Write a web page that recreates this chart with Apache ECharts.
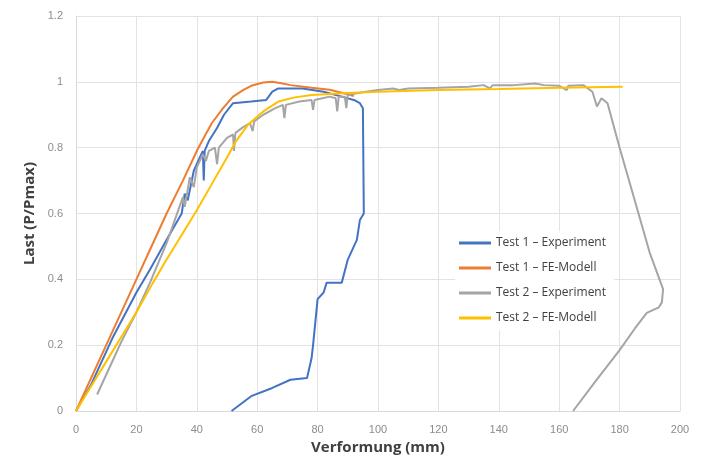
<!DOCTYPE html>
<html>
<head>
<meta charset="utf-8">
<script src="https://cdn.jsdelivr.net/npm/echarts@6/dist/echarts.min.js"></script>
<style>
  html, body { margin: 0; padding: 0; background: #fff; }
  #main { width: 711px; height: 461px; }
</style>
</head>
<body>
<div id="main"></div>
<script>
// Last-Verformungs-Kurven, Werte
const seriesNames = [
  'Test 1 \u2013 Experiment',
  'Test 1 \u2013 FE-Modell',
  'Test 2 \u2013 Experiment',
  'Test 2 \u2013 FE-Modell'
];

const test1Exp = [
  [0, 0], [5, 0.08], [12, 0.22], [20, 0.36], [24.5, 0.43], [30, 0.52],
  [35, 0.6], [36, 0.66], [37, 0.64], [39, 0.73], [41, 0.77], [42, 0.79],
  [42.3, 0.7], [42.6, 0.79], [44, 0.82], [46.7, 0.86], [49, 0.9], [52, 0.935],
  [58, 0.94], [63, 0.945], [65, 0.97], [67, 0.98], [75, 0.98], [82, 0.97],
  [88, 0.955], [92, 0.945], [94, 0.935], [95, 0.92], [95.3, 0.6], [94, 0.58],
  [93, 0.52], [90, 0.46], [88, 0.39], [83, 0.39], [82, 0.36], [80, 0.34],
  [78.5, 0.2], [78, 0.16], [76.5, 0.1], [71, 0.095], [65, 0.07], [58, 0.045],
  [51.5, 0]
];

const test1FE = [
  [0, 0], [10, 0.2], [20, 0.4], [24.5, 0.49], [30, 0.6], [35.4, 0.7],
  [40, 0.79], [42, 0.825], [45, 0.875], [48.7, 0.92], [52, 0.955], [55.3, 0.975],
  [58, 0.988], [62, 0.998], [65, 1.0], [68, 0.996], [71, 0.99], [78, 0.982],
  [84, 0.976], [88, 0.967], [92, 0.957]
];

const test2Exp = [
  [7, 0.05], [10, 0.11], [15, 0.21], [20, 0.3], [24.5, 0.39], [30, 0.51],
  [35.4, 0.65], [36, 0.62], [37.7, 0.71], [39, 0.68], [40, 0.74], [42, 0.78],
  [43, 0.76], [44, 0.79], [46, 0.8], [46.7, 0.75], [47.3, 0.8], [50, 0.83],
  [52, 0.84], [52.3, 0.79], [52.8, 0.845], [55, 0.86], [57.6, 0.875],
  [58.5, 0.85], [59, 0.88], [62, 0.9], [66, 0.92], [68.5, 0.93], [69, 0.89],
  [69.5, 0.93], [74, 0.94], [78, 0.945], [78.5, 0.915], [79, 0.945],
  [84, 0.955], [86, 0.95], [86.5, 0.91], [87, 0.955], [89, 0.955], [89.5, 0.92],
  [90, 0.96], [93, 0.965], [96, 0.97], [100, 0.975], [105, 0.98], [107, 0.975],
  [110, 0.98], [120, 0.982], [130, 0.985], [135, 0.99], [137, 0.98], [138, 0.99],
  [145, 0.99], [152, 0.995], [155, 0.99], [160, 0.988], [162.5, 0.975],
  [163, 0.988], [168, 0.99], [171, 0.97], [172.5, 0.925], [174, 0.95],
  [176, 0.935], [180, 0.8], [185, 0.64], [190, 0.48], [192, 0.43],
  [194.4, 0.37], [194, 0.33], [193, 0.315], [189, 0.298], [185, 0.25],
  [180, 0.185], [172, 0.09], [164.6, 0]
];

const test2FE = [
  [0, 0], [10, 0.15], [20, 0.3], [25.5, 0.39], [30, 0.46], [36, 0.55],
  [40, 0.61], [45, 0.69], [50, 0.77], [53, 0.82], [57, 0.87], [62, 0.91],
  [67, 0.94], [72, 0.952], [78, 0.96], [90, 0.966], [100, 0.97], [120, 0.975],
  [140, 0.978], [160, 0.982], [181, 0.985]
];

const colors = ['#4472C4', '#ED7D31', '#A5A5A5', '#FFC000'];
const allData = [test1Exp, test1FE, test2Exp, test2FE];

var chart = echarts.init(document.getElementById('main'));

var option = {
  animation: false,
  color: colors,
  grid: { left: 76, right: 31, top: 16, bottom: 50 },
  legend: {
    orient: 'vertical',
    left: 455,
    top: 231,
    backgroundColor: '#ffffff',
    padding: [6, 8, 6, 4],
    itemWidth: 32,
    itemHeight: 3,
    itemGap: 13,
    icon: 'rect',
    textStyle: { fontSize: 12, color: '#404040', fontFamily: 'Open Sans' },
    data: seriesNames
  },
  xAxis: {
    type: 'value',
    min: 0,
    max: 200,
    interval: 20,
    name: 'Verformung (mm)',
    nameLocation: 'middle',
    nameGap: 29,
    nameTextStyle: { fontSize: 15, fontWeight: 'bold', color: '#404040', fontFamily: 'Open Sans' },
    axisLine: { show: true, lineStyle: { color: '#d9d9d9' } },
    axisTick: { show: false },
    axisLabel: { fontSize: 11, color: '#8c8c8c', margin: 13 },
    splitLine: { show: true, lineStyle: { color: '#e3e3e3' } }
  },
  yAxis: {
    type: 'value',
    min: 0,
    max: 1.2,
    interval: 0.2,
    name: 'Last (P/Pmax)',
    nameLocation: 'middle',
    nameGap: 34,
    nameTextStyle: { fontSize: 15, fontWeight: 'bold', color: '#404040', fontFamily: 'Open Sans' },
    axisLine: { show: true, lineStyle: { color: '#d9d9d9' } },
    axisTick: { show: false },
    axisLabel: { fontSize: 11, color: '#8c8c8c', margin: 13 },
    splitLine: { show: true, lineStyle: { color: '#e3e3e3' } }
  },
  series: seriesNames.map(function (name, i) {
    return {
      name: name,
      type: 'line',
      showSymbol: false,
      symbol: 'none',
      data: allData[i],
      lineStyle: { width: 2, color: colors[i] },
      z: 2 + i
    };
  })
};

chart.setOption(option);
</script>
</body>
</html>
